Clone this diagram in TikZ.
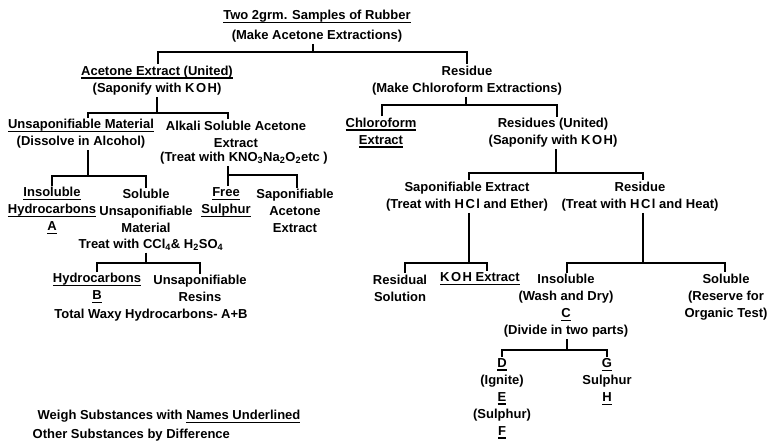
\documentclass[tikz,border=0pt]{standalone}
\usepackage{fontspec}
\setmainfont{Liberation Sans}
\newcommand\myul[1]{\leavevmode\setbox0\hbox{#1}\rlap{\vrule width\wd0 height -2pt depth 3.5pt}\box0}
\newcommand\koh{K\kern1.5pt\relax O\kern1.5pt\relax H}
\newcommand\hcl{H\kern1.5pt\relax C\kern1.5pt\relax l}
\tikzset{
  txt/.style={inner sep=1.5pt, align=center, font=\fontsize{13}{17}\selectfont\bfseries},
  conn/.style={line width=1.8pt},
}
\begin{document}
\begin{tikzpicture}[x=1pt,y=-1pt]
\fill[white] (0,0) rectangle (770,443);
\useasboundingbox (0,0) rectangle (770,443);
% ---- nodes ----
\node[txt] (t1) at (317,17) {\myul{Two 2grm. Samples of Rubber}};
\node[txt] (t2) at (317,36) {(Make Acetone Extractions)};
\node[txt] (l1) at (157,80.5) {\myul{Acetone Extract (United)}\\(Saponify with \koh)};
\node[txt] (r1) at (467,80.5) {Residue\\(Make Chloroform Extractions)};
\node[txt] (ll1) at (81,134) {\myul{Unsaponifiable Material}\\(Dissolve in Alcohol)};
\node[txt] (ls) at (236,134) {Alkali Soluble Acetone\\Extract};
\node[txt] (kno) at (244,158) {(Treat with KNO\textsubscript{3}Na\textsubscript{2}O\textsubscript{2}etc )};
\node[txt] (ce) at (381,133) {\myul{Chloroform}\\\myul{Extract}};
\node[txt] (ru) at (553,133) {Residues (United)\\(Saponify with \koh)};
\node[txt] (ins) at (52,211) {\myul{Insoluble}\\\myul{Hydrocarbons}\\\myul{A}};
\node[txt] (sol) at (146,211) {Soluble\\Unsaponifiable\\Material};
\node[txt] (ccl) at (151,245) {Treat with CCl\textsubscript{4}\& H\textsubscript{2}SO\textsubscript{4}};
\node[txt] (free) at (226,202.5) {\myul{Free}\\\myul{Sulphur}};
\node[txt] (sae) at (295,211) {Saponifiable\\Acetone\\Extract};
\node[txt] (hyd) at (97,288.5) {\myul{Hydrocarbons}\\\myul{B}};
\node[txt] (ur) at (200,288.5) {Unsaponifiable\\Resins};
\node[txt] (tw) at (151,315) {Total Waxy Hydrocarbons- A+B};
\node[txt] (se) at (467,196.5) {Saponifiable Extract\\(Treat with \hcl{} and Ether)};
\node[txt] (rs) at (640,196.5) {Residue\\(Treat with \hcl{} and Heat)};
\node[txt] (resid) at (400,288) {Residual\\Solution};
\node[txt] (koh) at (480,279) {\myul{\koh{} Extract}};
\node[txt] (insr) at (566,306) {Insoluble\\(Wash and Dry)\\\myul{C}\\(Divide in two parts)};
\node[txt] (solr) at (726,297) {Soluble\\(Reserve for\\Organic Test)};
\node[txt] (dcol) at (502,398.5) {\myul{D}\\(Ignite)\\\myul{E}\\(Sulphur)\\\myul{F}};
\node[txt] (gcol) at (607,382) {\myul{G}\\Sulphur\\\myul{H}};
\node[txt,anchor=west] (n1) at (36,417) {Weigh Substances with \myul{Names Underlined}};
\node[txt,anchor=west] (n2) at (31,435) {Other Substances by Difference};
% ---- bar coordinates ----
\coordinate (b1s) at (313,52);  \coordinate (b1l) at (158,52);  \coordinate (b1r) at (467,52);
\coordinate (b2s) at (157,113); \coordinate (b2l) at (88,113);  \coordinate (b2r) at (228,113);
\coordinate (b3s) at (466,105); \coordinate (b3l) at (382,105); \coordinate (b3r) at (557,105);
\coordinate (b4s) at (88,176);  \coordinate (b4l) at (52,176);  \coordinate (b4r) at (146,176);
\coordinate (b5s) at (228,175); \coordinate (b5l) at (228,175); \coordinate (b5r) at (297,175);
\coordinate (b6s) at (146,263); \coordinate (b6l) at (97,263);  \coordinate (b6r) at (200,263);
\coordinate (b7s) at (556,173); \coordinate (b7l) at (469,173); \coordinate (b7r) at (643,173);
\coordinate (b8s) at (469,263); \coordinate (b8l) at (405,263); \coordinate (b8r) at (487,263);
\coordinate (b9s) at (643,263); \coordinate (b9l) at (567,263); \coordinate (b9r) at (725,263);
\coordinate (b10s) at (567,350); \coordinate (b10l) at (502,350); \coordinate (b10r) at (607,350);
% ---- connectors ----
\draw[conn] (t2.south -| b1s) -- (b1s);
\draw[conn] (l1.north -| b1l) -- (b1l) -- (b1r) -- (r1.north -| b1r);
\draw[conn] (l1.south -| b2s) -- (b2s);
\draw[conn] (ll1.north -| b2l) -- (b2l) -- (b2r) -- (ls.north -| b2r);
\draw[conn] (r1.south -| b3s) -- (b3s);
\draw[conn] (ce.north -| b3l) -- (b3l) -- (b3r) -- (ru.north -| b3r);
\draw[conn] (ll1.south -| b4s) -- (b4s);
\draw[conn] (ins.north -| b4l) -- (b4l) -- (b4r) -- (sol.north -| b4r);
\draw[conn] (kno.south -| b5s) -- (b5s);
\draw[conn] (free.north -| b5l) -- (b5l) -- (b5r) -- (sae.north -| b5r);
\draw[conn] (ccl.south -| b6s) -- (b6s);
\draw[conn] (hyd.north -| b6l) -- (b6l) -- (b6r) -- (ur.north -| b6r);
\draw[conn] (ru.south -| b7s) -- (b7s);
\draw[conn] (se.north -| b7l) -- (b7l) -- (b7r) -- (rs.north -| b7r);
\draw[conn] (se.south -| b8s) -- (b8s);
\draw[conn] (resid.north -| b8l) -- (b8l) -- (b8r) -- (koh.north -| b8r);
\draw[conn] (rs.south -| b9s) -- (b9s);
\draw[conn] (insr.north -| b9l) -- (b9l) -- (b9r) -- (solr.north -| b9r);
\draw[conn] (insr.south -| b10s) -- (b10s);
\draw[conn] (dcol.north -| b10l) -- (b10l) -- (b10r) -- (gcol.north -| b10r);
\end{tikzpicture}
\end{document}
